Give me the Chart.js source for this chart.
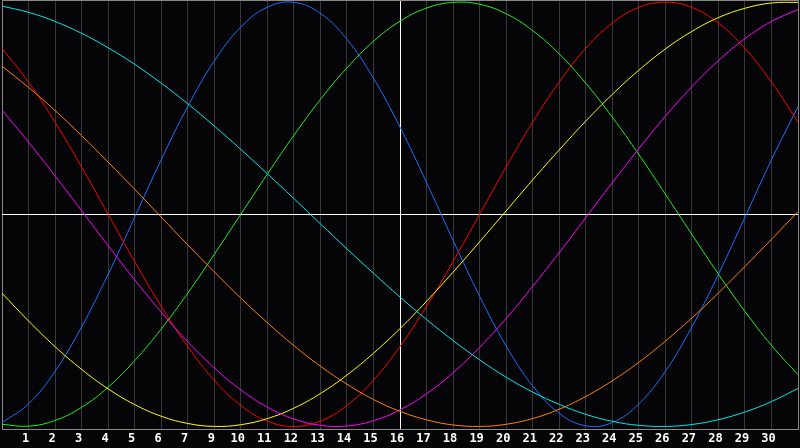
<!DOCTYPE html>
<html>
<head>
<meta charset="utf-8">
<script src="https://cdn.jsdelivr.net/npm/chart.js@4/dist/chart.umd.min.js"></script>
<style>
  html, body { margin: 0; padding: 0; background: #050507; }
  #wrap { width: 800px; height: 448px; }
</style>
</head>
<body>
<div id="wrap"><canvas id="bioChart" width="800" height="448"></canvas></div>
<script>
// dias (posicion en el eje x)
const days = [0,1,2,3,4,5,6,7,8,9,10,11,12,13,14,15,16,17,18,19,20,21,22,23,24,25,26,27,28,29,30];
// etiquetas del eje x (el 8 no aparece en la imagen)
const tickLabels = ['1','2','3','4','5','6','7','9','10','11','12','13','14','15','16','17','18','19','20','21','22','23','24','25','26','27','28','29','30'];

// curvas
const blueVals    = [-0.982,-0.894,-0.740,-0.531,-0.283,-0.014,0.257,0.508,0.722,0.882,0.976,0.999,0.947,0.825,0.641,0.411,0.150,-0.123,-0.386,-0.621,-0.809,-0.938,-0.997,-0.982,-0.894,-0.740,-0.531,-0.283,-0.014,0.257,0.508];
const redVals     = [0.782,0.623,0.434,0.223,0.000,-0.223,-0.434,-0.623,-0.782,-0.901,-0.975,-1.000,-0.975,-0.901,-0.782,-0.623,-0.434,-0.223,0.000,0.223,0.434,0.623,0.782,0.901,0.975,1.000,0.975,0.901,0.782,0.623,0.434];
const greenVals   = [-0.990,-0.999,-0.972,-0.910,-0.815,-0.690,-0.541,-0.372,-0.189,0.000,0.189,0.372,0.541,0.690,0.815,0.910,0.972,0.999,0.990,0.945,0.866,0.756,0.618,0.458,0.282,0.095,-0.095,-0.282,-0.458,-0.618,-0.756];
const yellowVals  = [-0.372,-0.503,-0.624,-0.731,-0.823,-0.897,-0.952,-0.986,-1.000,-0.992,-0.963,-0.914,-0.845,-0.758,-0.655,-0.539,-0.410,-0.273,-0.130,0.016,0.162,0.303,0.439,0.565,0.679,0.779,0.862,0.927,0.971,0.996,0.999];
const magentaVals = [0.491,0.340,0.181,0.017,-0.148,-0.309,-0.461,-0.601,-0.724,-0.828,-0.909,-0.965,-0.995,-0.998,-0.973,-0.922,-0.846,-0.747,-0.627,-0.491,-0.340,-0.181,-0.016,0.148,0.309,0.462,0.601,0.724,0.828,0.909,0.965];
const cyanVals    = [0.981,0.952,0.909,0.853,0.785,0.707,0.618,0.521,0.416,0.306,0.191,0.074,-0.045,-0.163,-0.278,-0.390,-0.496,-0.595,-0.686,-0.768,-0.838,-0.896,-0.943,-0.976,-0.995,-1.000,-0.991,-0.968,-0.932,-0.883,-0.821];
const orangeVals  = [0.698,0.598,0.489,0.371,0.246,0.118,-0.013,-0.144,-0.271,-0.395,-0.511,-0.619,-0.716,-0.801,-0.873,-0.929,-0.969,-0.993,-1.000,-0.990,-0.963,-0.919,-0.859,-0.785,-0.698,-0.598,-0.489,-0.371,-0.246,-0.118,0.013];

function toPoints(vals) {
  return vals.map((v, i) => ({ x: days[i], y: v }));
}

function line(vals, color) {
  return {
    data: toPoints(vals),
    borderColor: color,
    borderWidth: 1,
    pointRadius: 0,
    tension: 0.4,
    fill: false
  };
}

const ctx = document.getElementById('bioChart').getContext('2d');
new Chart(ctx, {
  type: 'line',
  data: {
    datasets: [
      line(cyanVals, '#00e8e8'),
      line(orangeVals, '#ff8000'),
      line(magentaVals, '#ff00ff'),
      line(yellowVals, '#ffff00'),
      line(greenVals, '#1eee1e'),
      line(redVals, '#ff0000'),
      line(blueVals, '#1e6eff')
    ]
  },
  options: {
    responsive: false,
    animation: false,
    layout: { padding: 0 },
    plugins: {
      legend: { display: false },
      tooltip: { enabled: false }
    },
    scales: {
      x: {
        type: 'linear',
        min: 0,
        max: 30,
        afterBuildTicks: scale => {
          scale.ticks = days.map(d => ({ value: d }));
        },
        ticks: {
          autoSkip: false,
          maxRotation: 0,
          color: '#ffffff',
          padding: 2,
          labelOffset: -3,
          font: { family: '"DejaVu Sans Mono", monospace', size: 12, weight: 'bold' },
          callback: (value) => (value >= 1 && value <= 29) ? tickLabels[value - 1] : ''
        },
        grid: {
          drawTicks: false,
          lineWidth: 1,
          color: c => {
            const v = c.tick ? c.tick.value : null;
            if (v === 15) return '#ffffff';
            if (v === 0 || v === 30) return '#888888';
            return '#383838';
          }
        },
        border: { display: true, color: '#888888', width: 1 }
      },
      y: {
        min: -1.015,
        max: 1.01,
        afterBuildTicks: scale => {
          scale.ticks = [{ value: -1.015 }, { value: 0 }, { value: 1.01 }];
        },
        ticks: { display: false },
        grid: {
          drawTicks: false,
          lineWidth: 1,
          color: c => (c.tick && c.tick.value === 0) ? '#ffffff' : '#888888'
        },
        border: { display: false }
      }
    }
  }
});
</script>
</body>
</html>
